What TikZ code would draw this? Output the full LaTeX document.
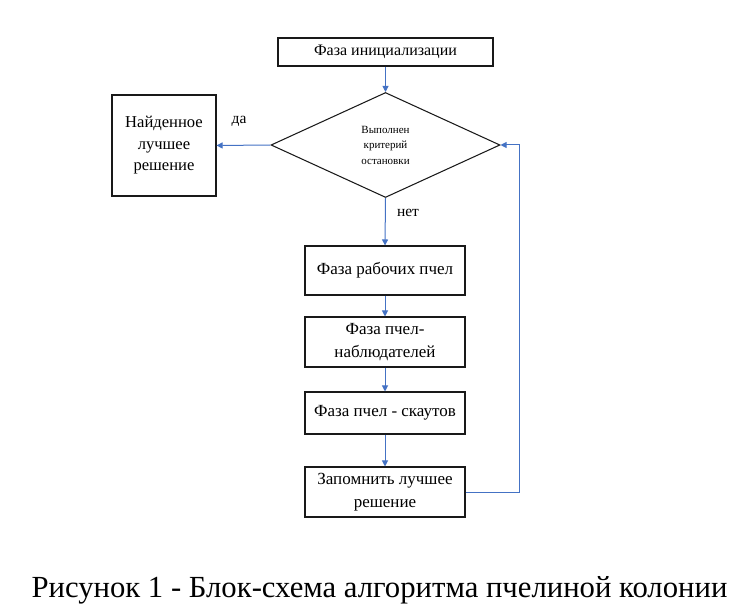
\documentclass[tikz,border=0pt]{standalone}
\usepackage{fontspec}
\setmainfont{Liberation Serif}
\usetikzlibrary{arrows.meta,shapes.geometric}
\definecolor{linkblue}{HTML}{4472C4}
\begin{document}
\begin{tikzpicture}[x=1pt,y=-1pt,
  box/.style={draw=black!90,line width=1.05pt,inner sep=0pt,align=center,font=\fontsize{17}{23}\selectfont},
  link/.style={draw=linkblue,line width=1pt,-{Triangle[length=6pt,width=6pt]}},
  lbl/.style={font=\fontsize{15.5}{17}\selectfont,inner sep=0pt}]
\useasboundingbox (0,0) rectangle (751,612);
\node[box,minimum width=215pt,minimum height=28pt,font=\fontsize{16}{19}\selectfont] (init) at (385.5,52) {Фаза инициализации};
\node[draw=black!90,line width=1.05pt,diamond,aspect=2.18,inner sep=0pt,minimum width=229pt,minimum height=105pt,align=center,font=\fontsize{11}{15.5}\selectfont] (crit) at (385.5,145) {Выполнен\\критерий\\остановки};
\node[box,minimum width=104pt,minimum height=101pt,font=\fontsize{16.6}{21.5}\selectfont] (best) at (164,145.5) {Найденное\\лучшее\\решение};
\node[box,minimum width=160pt,minimum height=49pt] (work) at (385,270.5) {Фаза рабочих пчел};
\node[box,minimum width=160pt,minimum height=50pt] (onl) at (385,342) {Фаза пчел-\\наблюдателей};
\node[box,minimum width=160pt,minimum height=42pt] (scout) at (385,413) {Фаза пчел - скаутов};
\node[box,minimum width=160pt,minimum height=50pt] (mem) at (385,492) {Запомнить лучшее\\решение};
\coordinate (corner1) at (519,492);
\coordinate (corner2) at (519,145);
\draw[link] (init) -- (crit);
\draw[link] (crit.west) -- (best.east);
\draw[link] (crit.south) -- (work.north);
\draw[link] (work) -- (onl);
\draw[link] (onl) -- (scout);
\draw[link] (scout) -- (mem);
\draw[link] (mem.east) -- (corner1) -- (corner2) -- (crit.east);
\node[lbl] (yes) at (239,121) {да};
\node[lbl] (no) at (408,213) {нет};
\node[font=\fontsize{30.7}{34}\selectfont,inner sep=0pt,anchor=base] (cap) at (379.5,597) {Рисунок 1 - Блок-схема алгоритма пчелиной колонии};
\end{tikzpicture}
\end{document}
